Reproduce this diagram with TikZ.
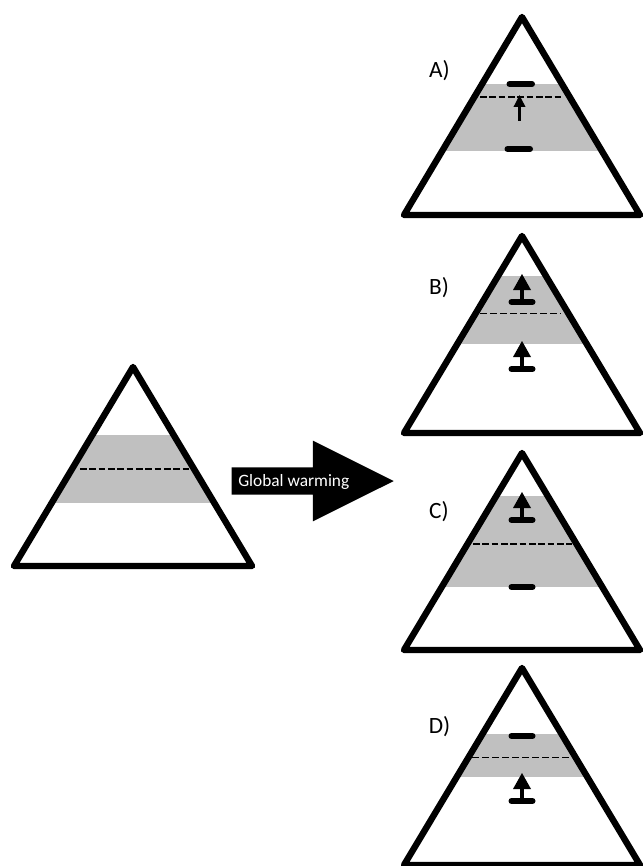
\documentclass[tikz,border=0pt]{standalone}
\usepackage{fontspec}
\setmainfont{Carlito}
\usetikzlibrary{arrows.meta,shapes.arrows}
\definecolor{band}{RGB}{192,192,192}
\tikzset{
  outline/.style={line width=4.8pt, line join=round, line cap=round},
  thickdash/.style={line width=2pt, dash pattern=on 5pt off 2pt},
  thindash/.style={line width=0.7pt, dash pattern=on 5.5pt off 2pt},
  bar/.style={line width=4.5pt, line cap=round},
  panel/.style={font=\fontsize{17.5}{17.5}\selectfont, inner sep=0pt},
  warmarrow/.style={shape=single arrow, fill=black, inner sep=0pt, inner ysep=10.1pt,
    minimum height=121.5pt, minimum width=60pt,
    single arrow head extend=20pt, single arrow tip angle=53.1,
    single arrow head indent=0pt},
  uptee/.pic={
    \draw [bar] (-10.5,0) -- (10.5,0);
    \draw [line width=3.5pt] (0,0) -- (0,-14);
    \fill (0,-28) -- (9,-12) -- (-9,-12) -- cycle;
  },
}
\begin{document}
\begin{tikzpicture}[x=0.75pt, y=-0.75pt]
\useasboundingbox (0,0) rectangle (643,866);

% pyramids: apex x, apex y, half base, height, band top, band bottom, dashed line y, left, right, dash style
\foreach \x/\y/\hw/\hh/\top/\bot/\lev/\lft/\rgt/\dsh in {
    133/367/119/199/435/503/469/80/190/thickdash,
    522/17/118/198/84/151/97/480/561/thickdash,
    522/236/118/197/276/344/313/480/561/thindash,
    522/453/118/197/496/587/544/473/572/thickdash,
    522/668/118/197/734/777/757/472/570/thindash} {
  \begin{scope}
    \clip (\x,\y) -- (\x+\hw,\y+\hh) -- (\x-\hw,\y+\hh) -- cycle;
    \fill [band] (\x-\hw,\top) rectangle (\x+\hw,\bot);
  \end{scope}
  \draw [\dsh] (\lft,\lev) -- (\rgt,\lev);
  \draw [outline] (\x,\y) -- (\x+\hw,\y+\hh) -- (\x-\hw,\y+\hh) -- cycle;
}

% A)
\draw [bar] (509.5,84) -- (532,84);
\draw [bar] (507.5,149) -- (530,149);
\coordinate (risefrom) at (519.5,121);
\coordinate (riseto) at (519.5,95);
\draw [line width=1.8pt, -{Triangle[length=9pt, width=8.5pt]}] (risefrom) -- (riseto);

% B)
\pic at (522,302) {uptee};
\pic at (522,369) {uptee};

% C)
\pic at (522,520) {uptee};
\draw [bar] (511.5,587) -- (532.5,587);

% D)
\draw [bar] (511.5,736) -- (532.5,736);
\pic at (522,801) {uptee};

\node [panel] (labela) at (439.5,71) {A)};
\node [panel] (labelb) at (439,288) {B)};
\node [panel] (labelc) at (439,512) {C)};
\node [panel] (labeld) at (439.5,727) {D)};

\node [warmarrow] (warming) at (299,481) {};
\node [anchor=west, text=white, inner sep=0pt, font=\fontsize{13}{13}\selectfont] (warmtext) at (238,482) {Global warming};
\end{tikzpicture}
\end{document}
